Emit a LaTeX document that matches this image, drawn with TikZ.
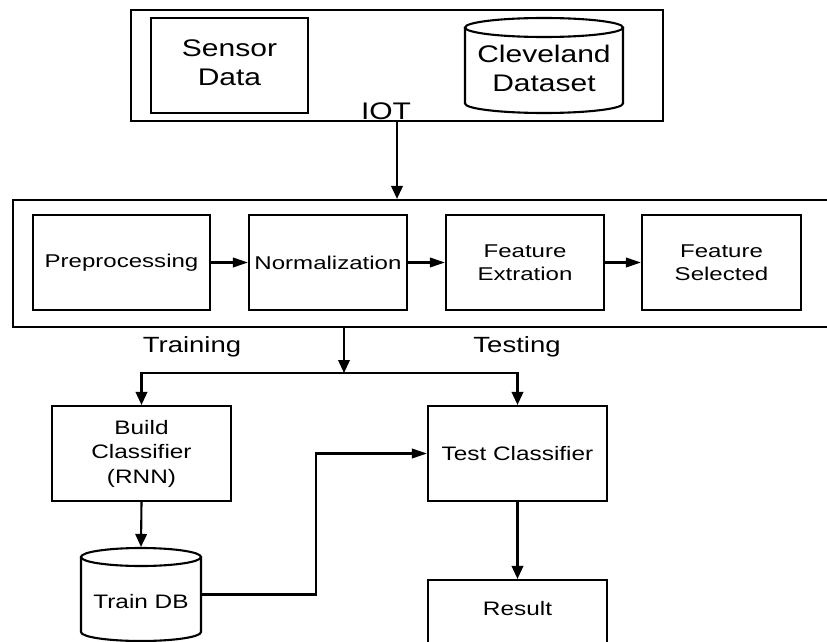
\documentclass[tikz,border=0pt]{standalone}
\usepackage{fontspec}
\setmainfont{Liberation Sans}
\newfontfamily\dfont[FakeStretch=1.25]{Liberation Sans}
\newfontfamily\mfont[FakeStretch=1.3]{Liberation Sans}
\usetikzlibrary{arrows.meta,calc}
\begin{document}
\begin{tikzpicture}[x=1pt,y=-1pt,
  line width=2.1pt,
  box/.style={draw, rectangle, inner sep=0pt, align=center},
  plain/.style={rectangle, inner sep=0pt, align=center},
  topfont/.style={font=\dfont\fontsize{24}{29}\selectfont},
  midfont/.style={font=\mfont\fontsize{18.5}{23.5}\selectfont},
  botfont/.style={font=\dfont\fontsize{19.5}{24.5}\selectfont},
  lblfont/.style={font=\dfont\fontsize{22}{26}\selectfont},
  harr/.style={-{Triangle[length=15pt,width=9.5pt]}},
  varr/.style={-{Triangle[length=13pt,width=11.5pt]}}
]
\useasboundingbox (0,0) rectangle (827,642);
\clip (0,0) rectangle (827,642);
\fill[white] (0,0) rectangle (827,642);

% top group
\node[box, minimum width=532pt, minimum height=111pt] (topbox) at (397,65.5) {};
\node[box, minimum width=157pt, minimum height=95pt] (sensor) at (229.5,65.5) {};
\node[plain, topfont] (sensortxt) at (229.5,63) {Sensor\\Data};
\node[plain, minimum width=158pt, minimum height=95pt] (cleveland) at (544,65.5) {};
\node[plain, topfont] (clevetxt) at (544,68) {Cleveland\\Dataset};
\draw (544,27.5) ellipse [x radius=79pt, y radius=9.5pt];
\draw (465,27.5) -- (465,103.5)
      .. controls (465,108.7) and (500.4,113) .. (544,113)
      .. controls (587.6,113) and (623,108.7) .. (623,103.5) -- (623,27.5);
\node[plain, topfont] (iot) at (386,111) {IOT};

% middle group
\node[box, minimum width=837pt, minimum height=127pt] (mid) at (431.5,263.5) {};
\node[box, midfont, minimum width=177pt, minimum height=95pt] (pre) at (121.5,262.5) {Preprocessing};
\node[box, midfont, minimum width=158pt, minimum height=95pt] (norm) at (328,262.5) {Normalization};
\node[box, midfont, minimum width=158pt, minimum height=95pt] (fext) at (525,262.5) {Feature\\Extration};
\node[box, midfont, minimum width=159pt, minimum height=95pt] (fsel) at (721.5,262.5) {Feature\\Selected};

\draw[varr] (topbox.south) -- (topbox.south |- mid.north);
\draw[harr] (pre.east) -- (norm.west);
\draw[harr] (norm.east) -- (fext.west);
\draw[harr] (fext.east) -- (fsel.west);

% labels
\node[plain, lblfont] (training) at (192,347) {Training};
\node[plain, lblfont] (testing) at (517,347) {Testing};

% bottom group
\node[box, botfont, minimum width=179pt, minimum height=95pt] (build) at (141.5,453.5) {Build\\Classifier\\(RNN)};
\node[box, botfont, minimum width=179pt, minimum height=95pt] (test) at (517.5,453.5) {Test Classifier};
\node[box, minimum width=179pt, minimum height=100pt] (result) at (517.5,630) {};
\node[plain, botfont] (resulttxt) at (517.5,609) {Result};

\node[plain, minimum width=120pt, minimum height=93pt] (traindb) at (141,594.5) {};
\node[plain, botfont] (traintxt) at (141,602) {Train DB};
\draw (141,557) ellipse [x radius=60pt, y radius=9pt];
\draw (81,557) -- (81,632)
      .. controls (81,637) and (107.9,641) .. (141,641)
      .. controls (174.1,641) and (201,637) .. (201,632) -- (201,557);

\coordinate (split) at (344,373);
\draw[varr] (mid.south -| split) -- (split);
\draw[varr] (split) -| (build.north);
\draw[varr] (split) -| (test.north);
\draw[varr] (build.south) -- (traindb.north);
\draw[harr] (traindb.east) -- ++(114,0) |- (test.west);
\draw[varr] (test.south) -- (result.north);
\end{tikzpicture}
\end{document}
